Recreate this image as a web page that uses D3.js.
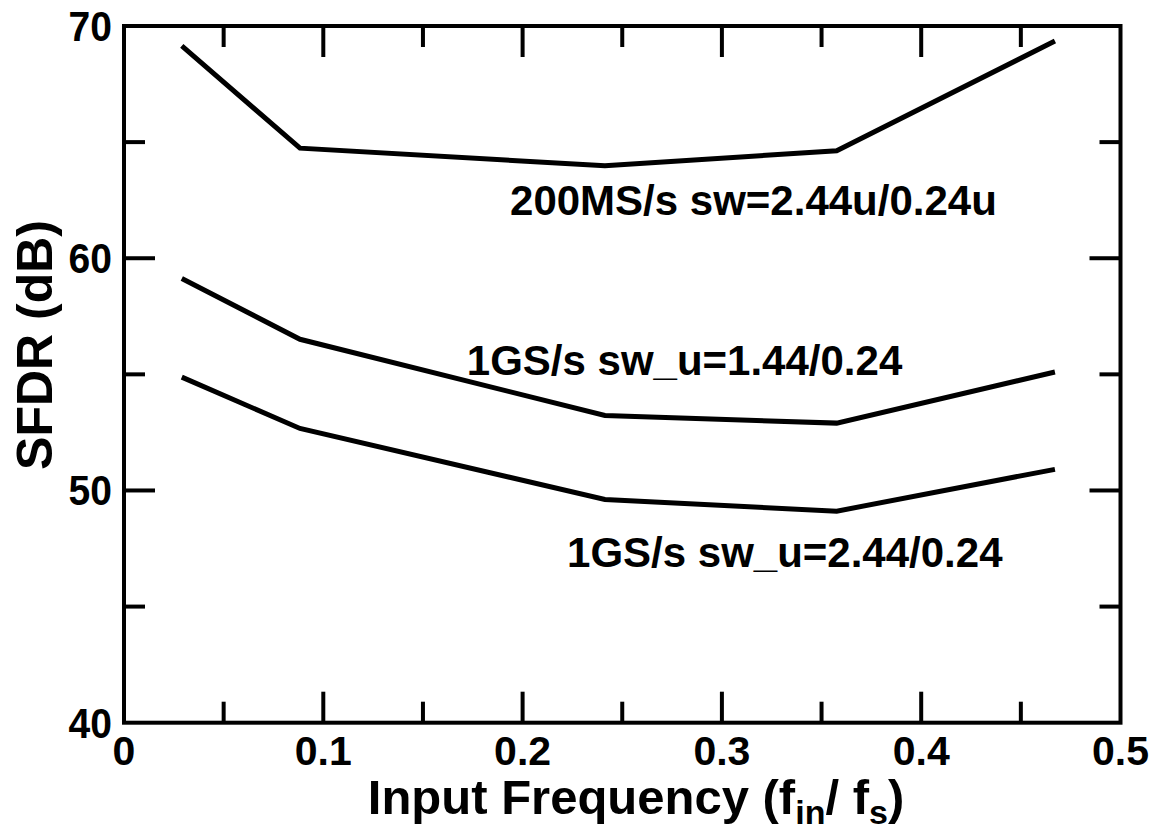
<!DOCTYPE html>
<html>
<head>
<meta charset="utf-8">
<script src="https://cdn.jsdelivr.net/npm/d3@7"></script>
<style>
  body { margin: 0; background: #fff; }
  text { font-family: "Liberation Sans", Arial, sans-serif; font-weight: bold; fill: #000; }
</style>
</head>
<body>
<div id="chart"></div>
<script>
// data
const freqs = [0.029, 0.0883, 0.2413, 0.3576, 0.4671];
const sfdr200M = [69.14, 64.74, 63.98, 64.63, 69.35];
const sfdr1G_144 = [59.13, 56.51, 53.23, 52.90, 55.10];
const sfdr1G_244 = [54.88, 52.67, 49.61, 49.11, 50.91];
const seriesNames = ["200MS/s sw=2.44u/0.24u", "1GS/s sw_u=1.44/0.24", "1GS/s sw_u=2.44/0.24"];
const xTicks = [0, 0.1, 0.2, 0.3, 0.4, 0.5];
const yTicks = [40, 50, 60, 70];

const W = 1161, H = 835;
const margin = {top: 26, right: 40, bottom: 112, left: 124};
const width = 1120.5 - margin.left;
const height = 722.7 - margin.top;

const svg = d3.select("#chart").append("svg")
    .attr("width", W).attr("height", H);
const g = svg.append("g").attr("transform", `translate(${margin.left},${margin.top})`);

const x = d3.scaleLinear().domain([0, 0.5]).range([0, width]);
const y = d3.scaleLinear().domain([40, 70]).range([height, 0]);

// ticks (inward, on all four sides)
const majorLen = 31, minorLen = 21;
const xMinor = d3.range(0.05, 0.5, 0.1);
const yMinor = [45, 55, 65];
const tickG = g.append("g").attr("stroke", "#000").attr("stroke-width", 4);
xTicks.slice(1, -1).forEach(v => {
    tickG.append("line").attr("x1", x(v)).attr("x2", x(v)).attr("y1", height).attr("y2", height - majorLen);
    tickG.append("line").attr("x1", x(v)).attr("x2", x(v)).attr("y1", 0).attr("y2", majorLen);
});
xMinor.forEach(v => {
    tickG.append("line").attr("x1", x(v)).attr("x2", x(v)).attr("y1", height).attr("y2", height - minorLen);
    tickG.append("line").attr("x1", x(v)).attr("x2", x(v)).attr("y1", 0).attr("y2", minorLen);
});
yTicks.slice(1, -1).forEach(v => {
    tickG.append("line").attr("x1", 0).attr("x2", majorLen).attr("y1", y(v)).attr("y2", y(v));
    tickG.append("line").attr("x1", width).attr("x2", width - majorLen).attr("y1", y(v)).attr("y2", y(v));
});
yMinor.forEach(v => {
    tickG.append("line").attr("x1", 0).attr("x2", minorLen).attr("y1", y(v)).attr("y2", y(v));
    tickG.append("line").attr("x1", width).attr("x2", width - minorLen).attr("y1", y(v)).attr("y2", y(v));
});

// frame
g.append("rect").attr("x", 0).attr("y", 0).attr("width", width).attr("height", height)
    .attr("fill", "none").attr("stroke", "#000").attr("stroke-width", 4);

// tick labels
function label(px, py, txt, anchor, size, sx) {
    return g.append("text")
        .attr("transform", `translate(${px},${py}) scale(${sx},1)`)
        .attr("text-anchor", anchor)
        .style("font-size", size + "px")
        .text(txt);
}
xTicks.forEach(v => label(x(v), height + 42, d3.format("")(v), "middle", 41, 1));
yTicks.forEach(v => label(-12, y(v) + 15, v, "end", 42, 0.93));

// lines
const line = d3.line().x((d, i) => x(freqs[i])).y(d => y(d));
[sfdr200M, sfdr1G_144, sfdr1G_244].forEach(s => {
    g.append("path").attr("d", line(s))
        .attr("fill", "none").attr("stroke", "#000").attr("stroke-width", 5)
        .attr("stroke-linejoin", "miter");
});

// series labels (left baseline position in data units)
const labelPos = [[0.1937, 61.85], [0.172, 54.96], [0.2223, 46.7]];
seriesNames.forEach((n, i) => {
    g.append("text")
        .attr("x", x(labelPos[i][0]))
        .attr("y", y(labelPos[i][1]))
        .style("font-size", "42px")
        .text(n);
});

// axis titles
const xt = g.append("text")
    .attr("x", 512)
    .attr("y", height + 91)
    .attr("text-anchor", "middle")
    .style("font-size", "49px");
xt.append("tspan").text("Input Frequency (f");
xt.append("tspan").attr("dy", 10).style("font-size", "34px").text("in");
xt.append("tspan").attr("dy", -10).text("/ f");
xt.append("tspan").attr("dy", 10).style("font-size", "34px").text("s");
xt.append("tspan").attr("dy", -10).text(")");

g.append("text")
    .attr("transform", `translate(${-72},${319}) rotate(-90)`)
    .attr("text-anchor", "middle")
    .style("font-size", "50px")
    .text("SFDR (dB)");
</script>
</body>
</html>
